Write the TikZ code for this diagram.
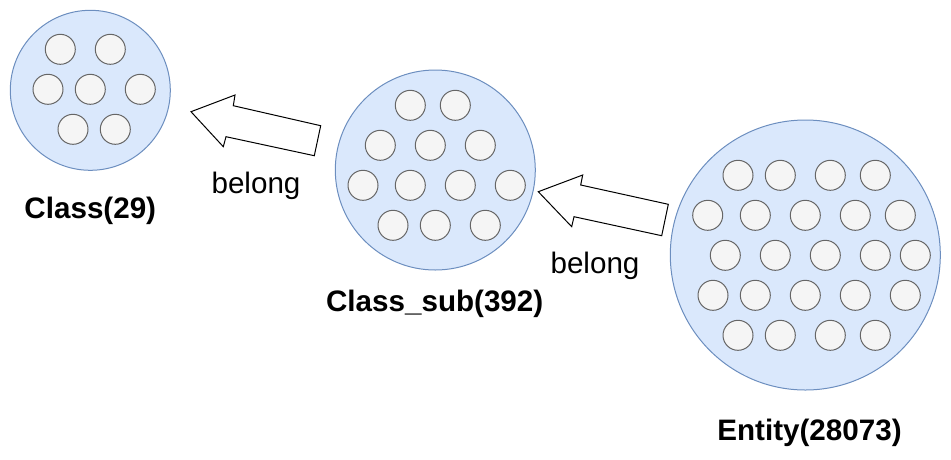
\documentclass[tikz,border=0pt]{standalone}
\usepackage{fontspec}
\setmainfont{Liberation Sans}
\definecolor{bigfill}{HTML}{DAE8FC}
\definecolor{bigline}{HTML}{6C8EBF}
\definecolor{smallfill}{HTML}{F5F5F5}
\definecolor{smallline}{HTML}{666666}
\tikzset{
  bigset/.style={circle, draw=bigline, fill=bigfill, line width=1pt, inner sep=0pt, minimum size=#1},
  item/.style={circle, draw=smallline, fill=smallfill, line width=1pt, inner sep=0pt, minimum size=30pt},
  blockarrow/.style={draw=black, fill=white, line width=1pt, line join=miter},
  setlabel/.style={anchor=base, font=\fontsize{29.6}{34}\selectfont\bfseries, inner sep=0pt},
  rellabel/.style={anchor=base, font=\fontsize{29.6}{34}\selectfont, inner sep=0pt}
}
\begin{document}
\begin{tikzpicture}[x=1pt,y=-1pt]
\useasboundingbox (0,0) rectangle (951,459);
% set circles
\node[bigset=160pt] (class) at (90.3,90.3) {};
\node[bigset=200pt] (classsub) at (435.3,170) {};
\node[bigset=270pt] (entity) at (805.3,255) {};
% items in Class
\foreach \x/\y [count=\i] in {60.3/49.3,110.3/49.3,48/89.3,90.3/89.3,140.3/89.3,73/129.3,115.3/129.3}
  \node[item] (c\i) at (\x,\y) {};
% items in Class_sub
\foreach \x/\y [count=\i] in {410.3/105.3,455.3/105.3,380.3/145.3,430.3/145.3,480.3/145.3,363/185.3,410.3/185.3,460.3/185.3,510.3/185.3,393/225.3,435.3/225.3,485.3/225.3}
  \node[item] (s\i) at (\x,\y) {};
% items in Entity
\foreach \x/\y [count=\i] in {738/175.3,780.3/175.3,830.3/175.3,875.3/175.3,
  707.7/215.3,755.3/215.3,805.3/215.3,855.3/215.3,900.3/215.3,
  725.3/255.3,775.3/255.3,825.3/255.3,875.3/255.3,915.3/255.3,
  713/295.3,755.3/295.3,805.3/295.3,855.3/295.3,905.3/295.3,
  738/335.3,780.3/335.3,830.3/335.3,875.3/335.3}
  \node[item] (e\i) at (\x,\y) {};
% block arrows
\draw[blockarrow] (191,111.7) -- (235,95) -- (233.3,105.7) -- (320.7,125.7) -- (314.3,155.7) -- (226,136.7) -- (223.3,146.7) -- cycle;
\draw[blockarrow] (538.3,191.7) -- (582.7,175) -- (580.7,185) -- (668.3,204.3) -- (661.7,235.7) -- (574,216.7) -- (571.7,226.7) -- cycle;
% labels
\node[setlabel] (classlbl) at (90.3,218.3) {Class(29)};
\node[setlabel] (classsublbl) at (434.7,311) {Class\_sub(392)};
\node[setlabel] (entitylbl) at (809.5,440) {Entity(28073)};
\node[rellabel] (belong1) at (256,193.3) {belong};
\node[rellabel] (belong2) at (595,273.3) {belong};
\end{tikzpicture}
\end{document}
